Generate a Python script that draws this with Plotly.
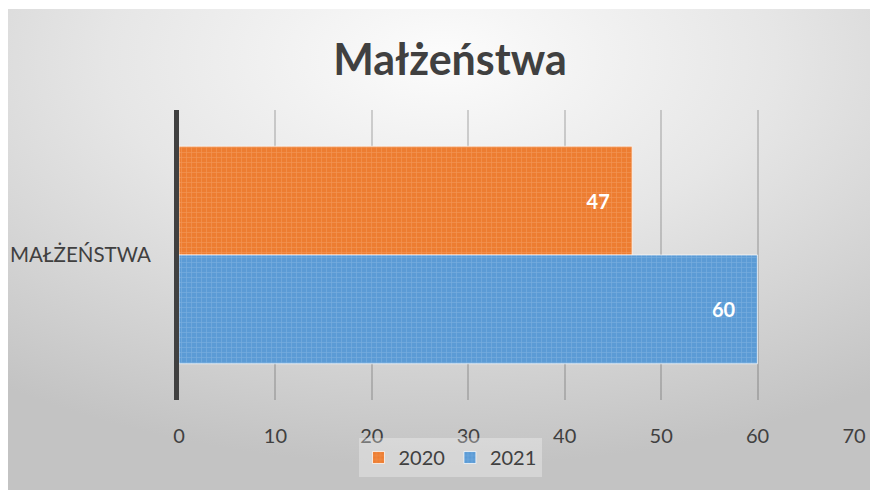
import base64

import plotly.graph_objects as go

# ── Data ─────────────────────────────────────────────────────────────────────
CATEGORIES = ["MAŁŻEŃSTWA"]
SERIES_NAMES = ["2020", "2021"]
VALUES_2020 = [47]
VALUES_2021 = [60]
X_TICKS = [0, 10, 20, 30, 40, 50, 60, 70]

# ── Palette ──────────────────────────────────────────────────────────────────
TEXT_COLOR = "#404040"
ORANGE = "#ED7D31"
ORANGE_DOT = "#F6AC76"
BLUE = "#5B9BD5"
BLUE_DOT = "#93BEE6"
GRID_COLOR = "rgba(0,0,0,0.16)"
FONT = "Lato, 'Open Sans', sans-serif"

# page body has an 8px margin, so the figure is drawn 8px in from the corner
W, H = 870, 485
M_L, M_R, M_T, M_B = 171, 24, 102, 93
PW, PH = W - M_L - M_R, H - M_T - M_B
OFF = 8

# radial grey background (Excel style gradient fill)
svg = (
    '<svg xmlns="http://www.w3.org/2000/svg" width="872" height="481" '
    'viewBox="0 0 872 481" preserveAspectRatio="none">'
    '<defs><radialGradient id="g" cx="0.5" cy="0.1" r="0.85">'
    '<stop offset="0" stop-color="#fcfcfc"/>'
    '<stop offset="0.45" stop-color="#e6e6e6"/>'
    '<stop offset="1" stop-color="#c3c3c3"/>'
    '</radialGradient></defs>'
    '<rect width="872" height="481" fill="url(#g)"/></svg>'
)
bg_src = "data:image/svg+xml;base64," + base64.b64encode(svg.encode()).decode()


def bar(name, values, color, dot):
    return go.Bar(
        name=name,
        y=CATEGORIES,
        x=values,
        orientation="h",
        marker=dict(
            color=color,
            line=dict(color="rgba(255,255,255,0.7)", width=1),
            pattern=dict(shape="+", fgcolor=dot, size=5, solidity=0.25),
        ),
        texttemplate="%{x}\u00a0\u00a0\u00a0\u00a0",
        textposition="inside",
        insidetextanchor="end",
        textfont=dict(color="white", size=20, family=FONT, weight="bold"),
        hoverinfo="name+x",
    )


fig = go.Figure()
fig.add_trace(bar(SERIES_NAMES[0], VALUES_2020, ORANGE, ORANGE_DOT))
fig.add_trace(bar(SERIES_NAMES[1], VALUES_2021, BLUE, BLUE_DOT))

fig.update_layout(
    width=W,
    height=H,
    paper_bgcolor="white",
    plot_bgcolor="rgba(0,0,0,0)",
    font=dict(family=FONT, color=TEXT_COLOR, size=20),
    margin=dict(l=M_L, r=M_R, t=M_T, b=M_B, autoexpand=False),
    barmode="group",
    bargap=0.25,
    bargroupgap=0,
    title=dict(
        text="<b>Małżeństwa</b>",
        font=dict(size=43, color=TEXT_COLOR, family=FONT),
        x=(450 - OFF) / W,
        xanchor="center",
        y=1 - (60 - OFF) / H,
        yanchor="middle",
        xref="container",
        yref="container",
    ),
    xaxis=dict(
        range=[0, 70],
        tickvals=X_TICKS,
        showgrid=True,
        gridcolor=GRID_COLOR,
        gridwidth=2,
        zeroline=False,
        showline=False,
        ticks="",
        ticklabelstandoff=22,
        tickfont=dict(size=20, color=TEXT_COLOR),
    ),
    yaxis=dict(
        autorange="reversed",
        showgrid=False,
        showline=True,
        linecolor="#404040",
        linewidth=5,
        ticks="",
        ticklabelstandoff=19,
        tickfont=dict(size=20.5, color=TEXT_COLOR),
    ),
    legend=dict(
        orientation="h",
        xref="container",
        yref="container",
        x=(450 - OFF) / W,
        xanchor="center",
        y=1 - (438 - OFF) / H,
        yanchor="top",
        bgcolor="rgba(255,255,255,0.3)",
        font=dict(size=20, color=TEXT_COLOR),
        itemwidth=30,
    ),
    images=[
        dict(
            source=bg_src,
            xref="paper",
            yref="paper",
            x=(6 - OFF - M_L) / PW,
            y=(M_T + PH - (9 - OFF)) / PH,
            sizex=872 / PW,
            sizey=481 / PH,
            xanchor="left",
            yanchor="top",
            sizing="stretch",
            layer="below",
        )
    ],
    showlegend=True,
)

fig.write_html("out.html")
